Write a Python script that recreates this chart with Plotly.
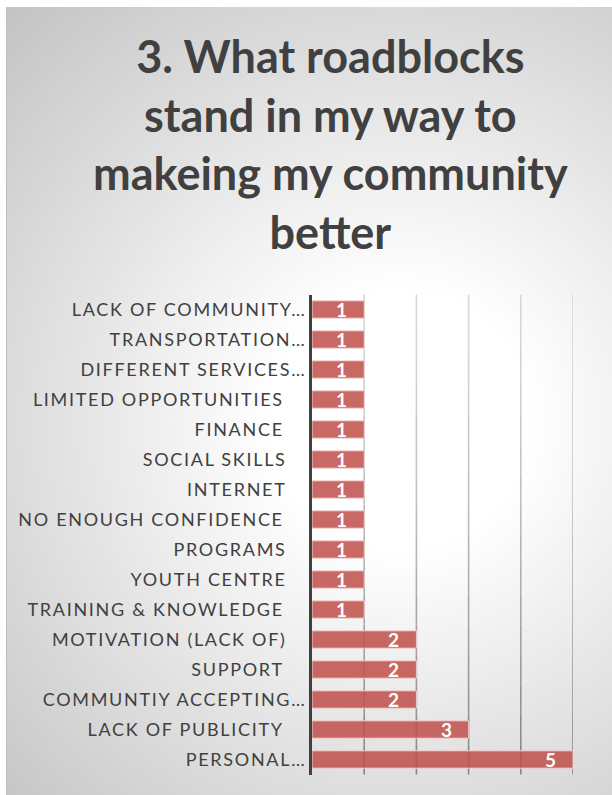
import base64
import plotly.graph_objects as go

# ---- data -------------------------------------------------------------
CATEGORIES = [
    "LACK OF COMMUNITY…",
    "TRANSPORTATION…",
    "DIFFERENT SERVICES…",
    "LIMITED OPPORTUNITIES ",
    "FINANCE ",
    "SOCIAL SKILLS",
    "INTERNET",
    "NO ENOUGH CONFIDENCE ",
    "PROGRAMS",
    "YOUTH CENTRE",
    "TRAINING & KNOWLEDGE ",
    "MOTIVATION (LACK OF)",
    "SUPPORT ",
    "COMMUNTIY ACCEPTING…",
    "LACK OF PUBLICITY ",
    "PERSONAL…",
]
COUNTS = [1, 1, 1, 1, 1, 1, 1, 1, 1, 1, 1, 2, 2, 2, 3, 5]
X_TICKS = [0, 1, 2, 3, 4, 5]
TITLE = "3. What roadblocks<br>stand in my way to<br>makeing my community<br>better"

# ---- page geometry (pixels) -------------------------------------------
W, H = 612, 795
PLOT_LEFT, PLOT_RIGHT = 312, 573
PLOT_TOP, PLOT_BOTTOM = 294.5, 774.5
BG_LEFT, BG_TOP = 6, 7

TEXT_DARK = "#404040"
FONT = "Lato"
TICK_LETTER_SPACING = "1.7px"


def pad_label(label):
    # truncated labels sit flush to the axis; full labels keep a wider gap
    if label.endswith("…"):
        return label
    if label.endswith(" "):
        return label.rstrip() + "\u2002\u00a0\u200a\u200a"
    return label + "\u2002\u00a0\u200a"


tick_text = [pad_label(c) for c in CATEGORIES]
cat_ids = list(range(len(CATEGORIES)))

# soft radial backdrop as an inline SVG
bg_w, bg_h = W - BG_LEFT, H - BG_TOP
svg = f"""<svg xmlns='http://www.w3.org/2000/svg' width='{bg_w}' height='{bg_h}'
 viewBox='0 0 {bg_w} {bg_h}' preserveAspectRatio='none'>
<defs><radialGradient id='g' gradientUnits='userSpaceOnUse' cx='394' cy='413' r='580'>
<stop offset='0' stop-color='#ffffff'/>
<stop offset='0.22' stop-color='#ffffff'/>
<stop offset='1' stop-color='#c2c2c2'/>
</radialGradient></defs>
<rect width='{bg_w}' height='{bg_h}' fill='url(#g)'/>
<line x1='0.5' y1='0' x2='0.5' y2='{bg_h}' stroke='#bdbdbd' stroke-width='1'/>
</svg>"""
bg_uri = "data:image/svg+xml;base64," + base64.b64encode(svg.encode()).decode()

fig = go.Figure()

fig.add_trace(
    go.Bar(
        x=COUNTS,
        y=cat_ids,
        orientation="h",
        marker=dict(
            color="rgba(192,80,77,0.86)",
            line=dict(color="rgba(244,214,212,0.95)", width=1),
        ),
        hoverinfo="skip",
        showlegend=False,
    )
)

# value labels just inside the end of each bar
annotations = [
    dict(
        x=v, y=i, xref="x", yref="y",
        text=f"<b>{v}</b>", showarrow=False,
        xanchor="right", yanchor="middle", xshift=-15,
        font=dict(family=FONT, size=19, color="white"),
    )
    for i, v in enumerate(COUNTS)
]

annotations.append(
    dict(
        x=330 / W, y=1 - 27 / H, xref="paper", yref="paper",
        text=f"<b>{TITLE}</b>", showarrow=False,
        xanchor="center", yanchor="top", align="center",
        font=dict(family=FONT, size=45, color=TEXT_DARK),
    )
)

# vertical gridlines, darkening towards the bottom
shapes = []
n_seg = 16
y0p = 1 - PLOT_BOTTOM / H
y1p = 1 - PLOT_TOP / H
for xv in X_TICKS[1:]:
    for s in range(n_seg):
        t_top = s / n_seg
        t_bot = (s + 1) / n_seg
        tm = (t_top + t_bot) / 2
        g = int(round(216 - 86 * tm ** 1.4))
        shapes.append(
            dict(
                type="line", xref="x", yref="paper", layer="below",
                x0=xv, x1=xv,
                y0=y1p - (y1p - y0p) * t_top,
                y1=y1p - (y1p - y0p) * t_bot,
                line=dict(color=f"rgb({g},{g},{g})", width=1.6),
            )
        )

fig.update_layout(
    width=W,
    height=H,
    margin=dict(l=0, r=0, t=0, b=0),
    paper_bgcolor="white",
    plot_bgcolor="rgba(0,0,0,0)",
    bargap=0.42,
    annotations=annotations,
    shapes=shapes,
    images=[
        dict(
            source=bg_uri, xref="paper", yref="paper",
            x=BG_LEFT / W, y=1 - BG_TOP / H,
            sizex=bg_w / W, sizey=bg_h / H,
            xanchor="left", yanchor="top",
            sizing="stretch", layer="below",
        )
    ],
    xaxis=dict(
        domain=[PLOT_LEFT / W, PLOT_RIGHT / W],
        range=[X_TICKS[0], X_TICKS[-1]],
        showgrid=False, zeroline=False, showticklabels=False,
        showline=False, fixedrange=True,
    ),
    yaxis=dict(
        domain=[1 - PLOT_BOTTOM / H, 1 - PLOT_TOP / H],
        tickmode="array", tickvals=cat_ids, ticktext=tick_text,
        autorange="reversed",
        showgrid=False, zeroline=False,
        showline=True, linecolor=TEXT_DARK, linewidth=3,
        ticks="", ticklabelstandoff=-1,
        tickfont=dict(family=FONT, size=18, color=TEXT_DARK),
        automargin=False, fixedrange=True,
    ),
)

# category labels are set with a little extra tracking
tracking_css = (
    "var s=document.createElement('style');"
    f"s.textContent='.ytick text{{letter-spacing:{TICK_LETTER_SPACING}}}';"
    "document.head.appendChild(s);"
)

fig.write_html("out.html", post_script=tracking_css)
